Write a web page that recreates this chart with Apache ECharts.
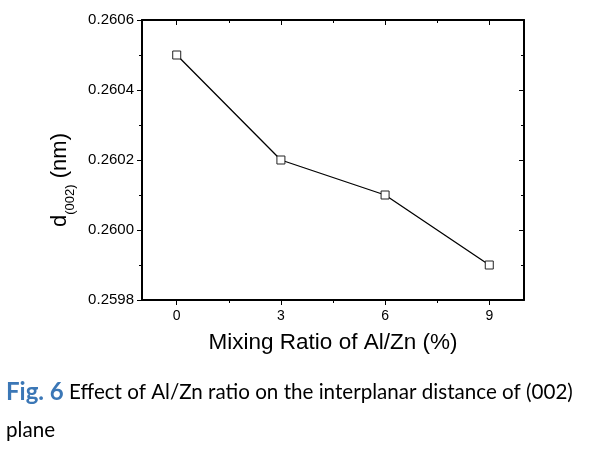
<!DOCTYPE html>
<html>
<head>
<meta charset="utf-8">
<script src="https://cdn.jsdelivr.net/npm/echarts@6/dist/echarts.min.js"></script>
<style>
  html, body { margin: 0; padding: 0; background: #fff; }
  #chart { width: 600px; height: 454px; }
</style>
</head>
<body>
<div id="chart"></div>
<script>
// data
const ratios = [0, 3, 6, 9];                       // Al/Zn mixing ratio (%)
const dSpacing = [0.2605, 0.2602, 0.2601, 0.2599]; // d(002) in nm
const xMajor = [0, 3, 6, 9];
const xMinor = [1.5, 4.5, 7.5];

const FONT = "'Liberation Sans', Arial, sans-serif";
const chart = echarts.init(document.getElementById('chart'), null, { renderer: 'canvas' });

const frameLine = { show: true, onZero: false, lineStyle: { color: '#000', width: 2 } };
const xBase = { type: 'value', min: -1, max: 10, splitLine: { show: false } };

chart.setOption({
  animation: false,
  backgroundColor: '#fff',
  grid: { left: 142, right: 76, top: 20, bottom: 154 },
  xAxis: [
    {
      ...xBase, position: 'bottom', axisLine: frameLine,
      axisTick: { show: true, inside: false, length: 5, customValues: xMajor, lineStyle: { color: '#000', width: 1 } },
      axisLabel: { customValues: xMajor, margin: 9, color: '#000', fontSize: 14, fontFamily: FONT },
      name: 'Mixing Ratio of Al/Zn (%)', nameLocation: 'middle', nameGap: 31,
      nameTextStyle: { fontSize: 22.5, fontFamily: FONT, color: '#000' }
    },
    {
      ...xBase, position: 'bottom', axisLine: { show: false },
      axisTick: { show: true, inside: false, length: 3, customValues: xMinor, lineStyle: { color: '#000', width: 1 } },
      axisLabel: { show: false }
    },
    {
      ...xBase, position: 'top', axisLine: frameLine,
      axisTick: { show: true, inside: true, length: 5, customValues: xMajor, lineStyle: { color: '#000', width: 1 } },
      axisLabel: { show: false }
    },
    {
      ...xBase, position: 'top', axisLine: { show: false },
      axisTick: { show: true, inside: true, length: 3, customValues: xMinor, lineStyle: { color: '#000', width: 1 } },
      axisLabel: { show: false }
    }
  ],
  yAxis: [
    {
      type: 'value', position: 'left', min: 0.2598, max: 0.2606, interval: 0.0002,
      axisLine: frameLine, splitLine: { show: false },
      axisTick: { show: true, inside: false, length: 5, lineStyle: { color: '#000', width: 1 } },
      minorTick: { show: true, splitNumber: 2, length: 3, lineStyle: { color: '#000', width: 1 } },
      axisLabel: { margin: 8, color: '#000', fontSize: 15, fontFamily: FONT, formatter: v => v.toFixed(4) },
      name: '{a|d}{b|(002)}{a| (nm)}', nameLocation: 'middle', nameRotate: 90, nameGap: 60,
      nameTextStyle: {
        color: '#000', fontFamily: FONT, padding: [0, 40, 0, 0],
        rich: {
          a: { fontSize: 22, fontFamily: FONT, color: '#000' },
          b: { fontSize: 13, fontFamily: FONT, color: '#000', padding: [22, 0, 0, 0] }
        }
      }
    },
    {
      type: 'value', position: 'right', min: 0.2598, max: 0.2606, interval: 0.0002,
      axisLine: frameLine, splitLine: { show: false },
      axisTick: { show: true, inside: true, length: 5, lineStyle: { color: '#000', width: 1 } },
      minorTick: { show: true, splitNumber: 2, length: 3, lineStyle: { color: '#000', width: 1 } },
      axisLabel: { show: false }
    }
  ],
  series: [{
    type: 'line',
    data: ratios.map((r, i) => [r, dSpacing[i]]),
    symbol: 'rect', symbolSize: 8,
    lineStyle: { color: '#000', width: 1.3 },
    itemStyle: { color: '#fff', borderColor: '#222', borderWidth: 1 },
    z: 5
  }],
  graphic: [
    {
      type: 'text', left: 6, top: 380,
      style: {
        text: '{f|Fig. 6}{t| Effect of Al/Zn ratio on the interplanar distance of (002)}',
        rich: {
          f: { fontSize: 24, fontWeight: 'bold', fontFamily: 'Lato, sans-serif', fill: '#3b77b6' },
          t: { fontSize: 20.6, fontFamily: 'Lato, sans-serif', fill: '#000' }
        }
      }
    },
    {
      type: 'text', left: 6, top: 420,
      style: { text: 'plane', fontSize: 20.6, fontFamily: 'Lato, sans-serif', fill: '#000' }
    }
  ]
});
</script>
</body>
</html>
